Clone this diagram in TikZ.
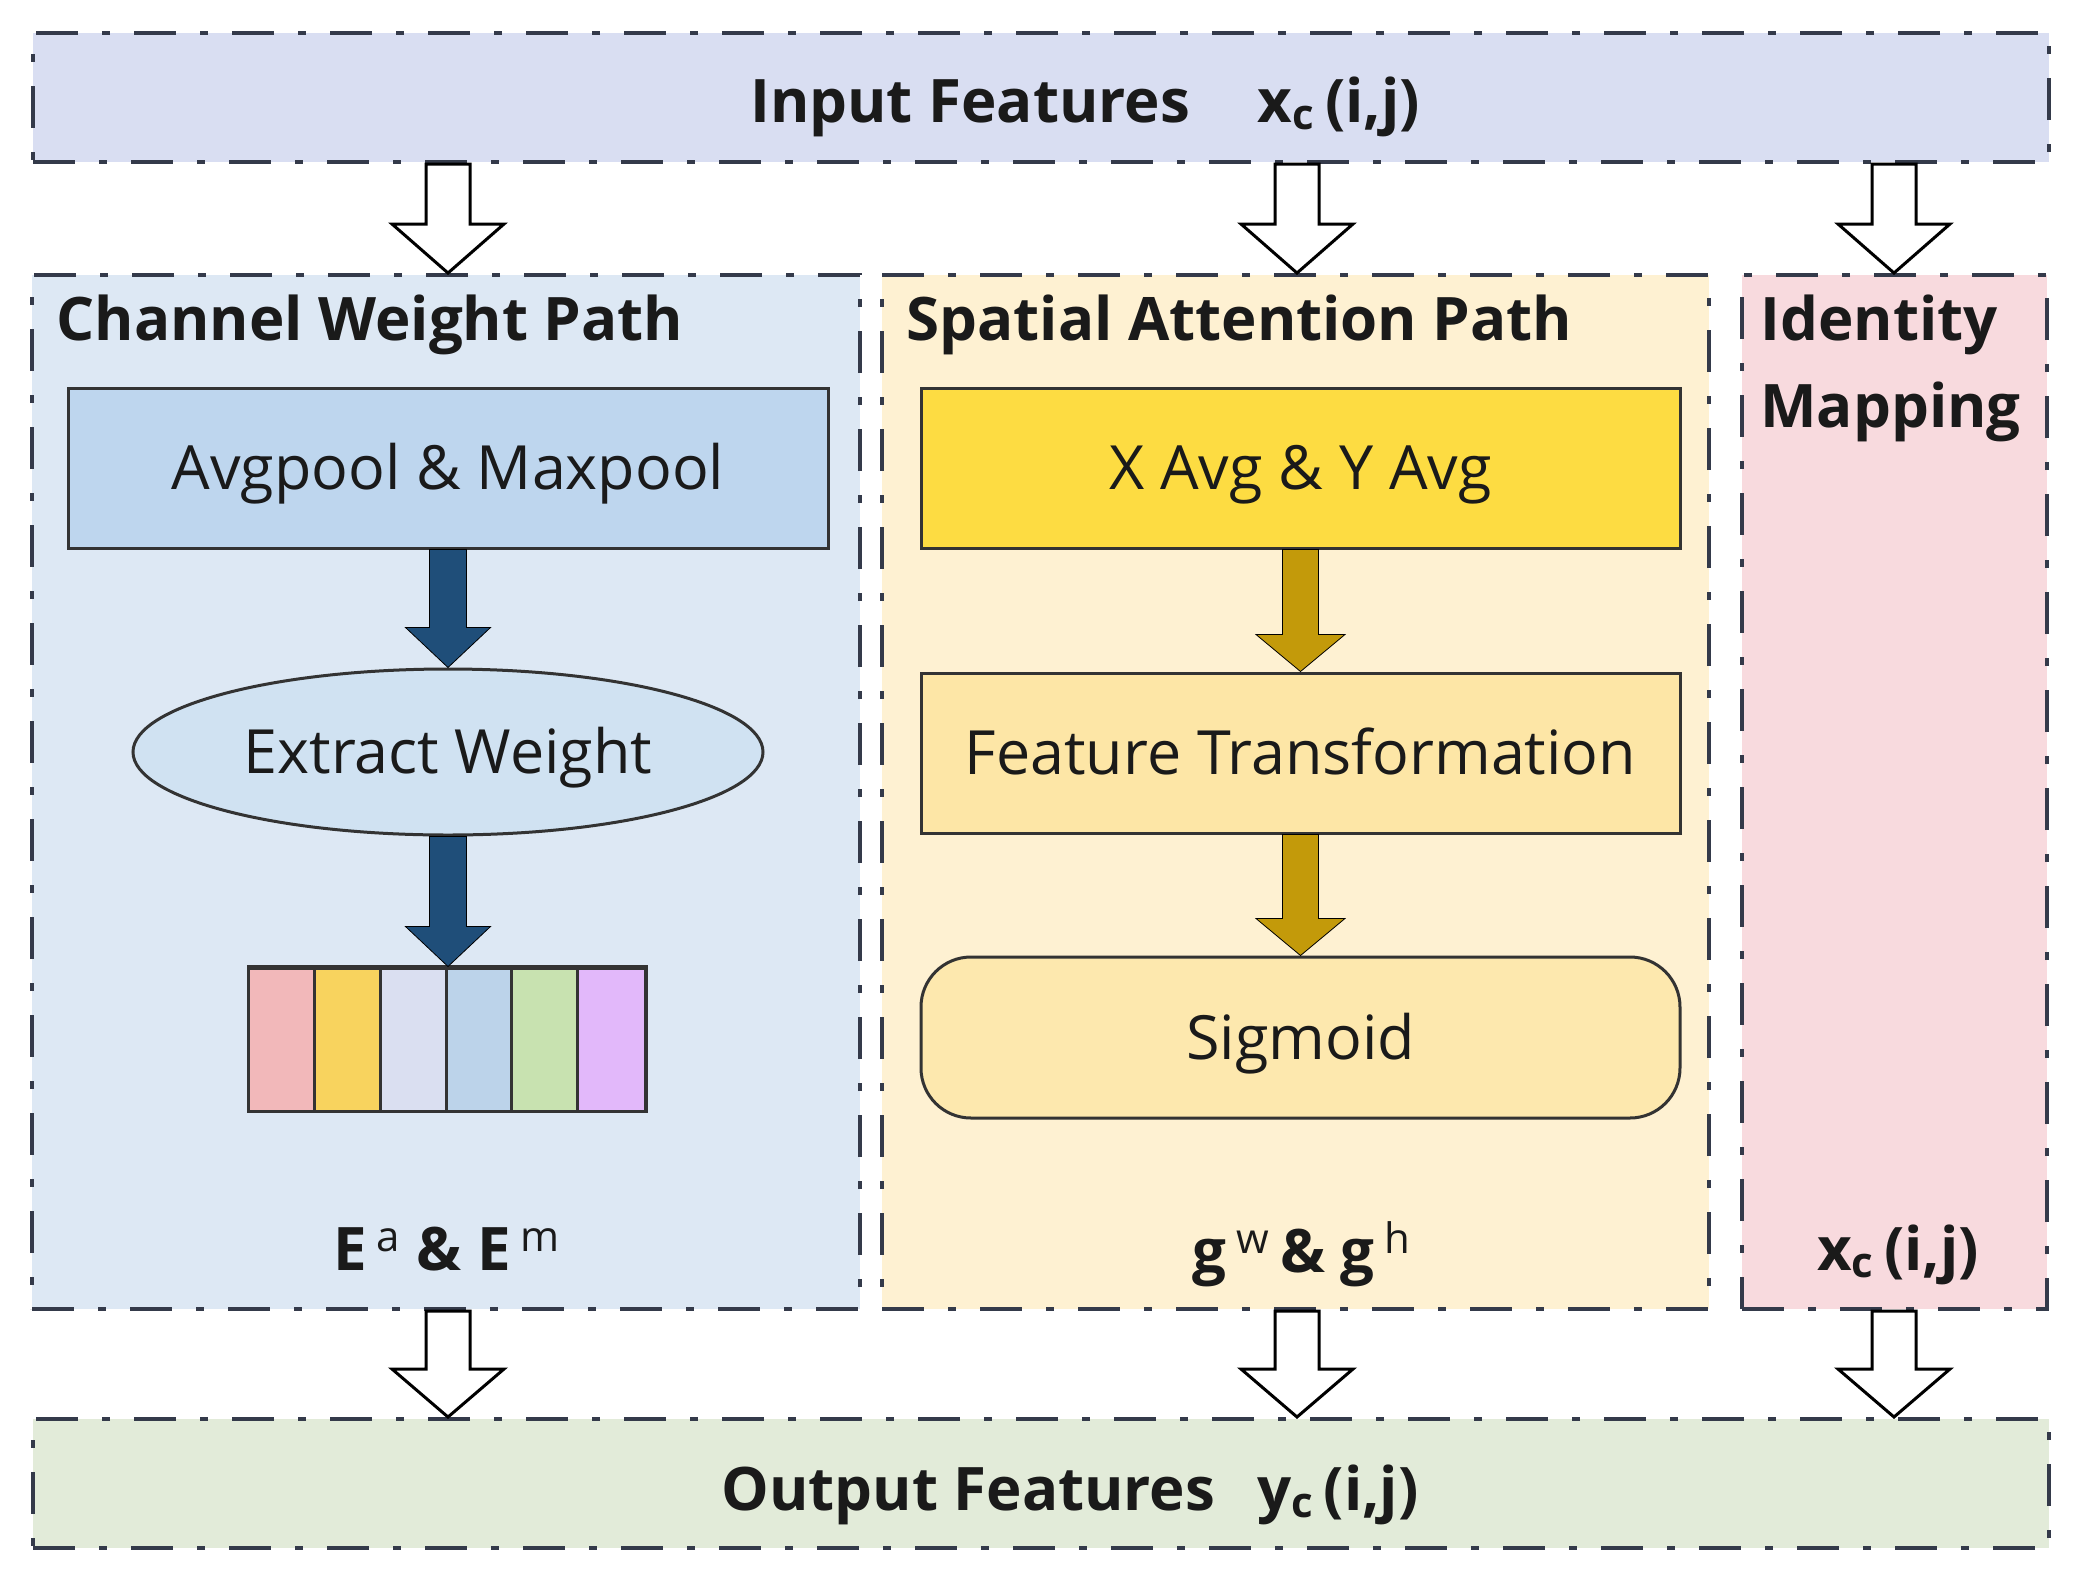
\documentclass[tikz,border=0pt]{standalone}
\usepackage{fontspec}
\setmainfont{Open Sans}
\usetikzlibrary{calc,shapes.geometric}
\definecolor{inFill}{HTML}{D9DEF2}
\definecolor{outFill}{HTML}{E2EBD9}
\definecolor{cwFill}{HTML}{DDE8F4}
\definecolor{saFill}{HTML}{FEF1D2}
\definecolor{imFill}{HTML}{F8DADE}
\definecolor{avgFill}{HTML}{BED6EE}
\definecolor{ellFill}{HTML}{D0E2F2}
\definecolor{xaFill}{HTML}{FDDC42}
\definecolor{ftFill}{HTML}{FDE6A6}
\definecolor{sgFill}{HTML}{FDE8AE}
\definecolor{blueArr}{HTML}{1F4E79}
\definecolor{goldArr}{HTML}{C39A0A}
\definecolor{dashCol}{HTML}{343A4A}
\definecolor{lineCol}{HTML}{333333}
\definecolor{txtCol}{HTML}{1A1A1A}
\definecolor{c1}{HTML}{F2B8BA}
\definecolor{c2}{HTML}{F8D35E}
\definecolor{c3}{HTML}{DADFF1}
\definecolor{c4}{HTML}{BCD3EA}
\definecolor{c5}{HTML}{C8E2B0}
\definecolor{c6}{HTML}{E2B8FA}
% block arrow: style, start, end, half shaft, half head, head length
\newcommand\blockarr[6]{%
  \draw[#1] let \p1=(#2), \p2=(#3) in
    (\x1-#4,\y1) -- (\x1+#4,\y1) -- (\x1+#4,\y2+#6) -- (\x1+#5,\y2+#6)
    -- (\x1,\y2) -- (\x1-#5,\y2+#6) -- (\x1-#4,\y2+#6) -- cycle;}
\begin{document}
\begin{tikzpicture}[x=0.5pt,y=-0.5pt,
  pathbox/.style={draw=dashCol, line width=2pt,
    dash pattern=on 21pt off 12pt on 4pt off 12pt,
    rectangle, inner sep=0pt},
  innerbox/.style={draw=lineCol, line width=1.5pt, inner sep=0pt,
    text=txtCol, font=\fontsize{30.5}{36}\selectfont,
    text height=21.5pt, text depth=0pt},
  title/.style={anchor=base west, inner sep=0pt, text=txtCol,
    font=\fontsize{30}{43.5}\selectfont\bfseries},
  outlabel/.style={anchor=base, inner sep=0pt, text=txtCol,
    font=\fontsize{30}{36}\selectfont\bfseries},
  hollow/.style={draw=black, fill=white, line width=1.5pt, line join=miter},
  bluearrow/.style={fill=blueArr},
  goldarrow/.style={fill=goldArr},
]
\useasboundingbox (0,0) rectangle (2085,1591);
\fill[white] (0,0) rectangle (2085,1591);

% columns
\coordinate (col1) at (448,0);
\coordinate (col2) at (1297,0);
\coordinate (col3) at (1894,0);

% outer boxes
\node[pathbox, fill=inFill, minimum width=1008pt, minimum height=64.5pt] (in) at (1041,97.5) {};
\node[pathbox, fill=outFill, minimum width=1008pt, minimum height=64.5pt] (out) at (1041,1483.5) {};
\node[pathbox, fill=cwFill, minimum width=414pt, minimum height=517pt] (cw) at (446,792) {};
\node[pathbox, fill=saFill, minimum width=413.5pt, minimum height=517pt] (sa) at (1295.5,792) {};
\node[pathbox, fill=imFill, minimum width=152.5pt, minimum height=517pt] (im) at (1894.5,792) {};

% main labels
\node[outlabel] (inlabel) at (1085,122) {Input Features\hspace{34pt}x\textsubscript{c}\,(i,j)};
\node[outlabel] (outlabel) at (1070,1510) {Output Features\hspace{21pt}y\textsubscript{c}\,(i,j)};

% titles
\node[title] (cwt) at (56,340) {Channel Weight Path};
\node[title] (sat) at (906,340) {Spatial Attention Path};
\node[title, align=left] (imt) at (1760,427) {Identity\\Mapping};

% channel path
\node[innerbox, fill=avgFill, minimum width=380pt, minimum height=80pt] (avg) at (448,468) {Avgpool \& Maxpool};
\node[innerbox, ellipse, fill=ellFill, minimum width=315pt, minimum height=83pt] (ell) at (448,752) {Extract Weight};
\node[draw=lineCol, line width=1.5pt, minimum width=197.5pt, minimum height=71pt, inner sep=0pt] (strip) at (447.5,1039) {};
\foreach \i/\c in {0/c1,1/c2,2/c3,3/c4,4/c5,5/c6}{
  \fill[\c] ($(strip.south west)+(\i*65.833,0)$) rectangle ($(strip.south west)+(\i*65.833+65.833,-142)$);
}
\foreach \i in {1,...,5}{
  \draw[lineCol, line width=1.5pt] ($(strip.south west)+(\i*65.833,0)$) -- ($(strip.north west)+(\i*65.833,0)$);
}
\draw[lineCol, line width=1.5pt] (strip.south west) rectangle (strip.north east);
\node[outlabel] (cwout) at (447,1270) {E\,\textsuperscript{\mdseries a} \& E\,\textsuperscript{\mdseries m}};

% spatial path
\node[innerbox, fill=xaFill, minimum width=379.5pt, minimum height=80pt] (xa) at (1300.5,468) {X Avg \& Y Avg};
\node[innerbox, fill=ftFill, minimum width=379.5pt, minimum height=80pt] (ft) at (1300.5,753) {Feature Transformation};
\node[innerbox, fill=sgFill, rounded corners=25pt, minimum width=379.5pt, minimum height=80.5pt] (sg) at (1300.5,1037.5) {Sigmoid};
\node[outlabel] (saout) at (1302,1272) {g\,\textsuperscript{\mdseries w}\,\& g\,\textsuperscript{\mdseries h}};

% identity
\node[outlabel] (imout) at (1898,1270) {x\textsubscript{c}\,(i,j)};

% inner arrows
\blockarr{bluearrow}{avg.south}{ell.north}{9.25pt}{21.25pt}{20pt}
\blockarr{bluearrow}{ell.south}{strip.north}{9.25pt}{21.25pt}{20pt}
\blockarr{goldarrow}{xa.south}{ft.north}{9pt}{22.25pt}{18.5pt}
\blockarr{goldarrow}{ft.south}{sg.north}{9pt}{22.25pt}{18.5pt}

% hollow arrows in
\blockarr{hollow}{in.south -| col1}{cw.north -| col1}{11pt}{28pt}{24.5pt}
\blockarr{hollow}{in.south -| col2}{sa.north -| col2}{11pt}{28pt}{24.5pt}
\blockarr{hollow}{in.south -| col3}{im.north -| col3}{11pt}{28pt}{24.5pt}
% hollow arrows out
\blockarr{hollow}{cw.south -| col1}{out.north -| col1}{11pt}{28pt}{24pt}
\blockarr{hollow}{sa.south -| col2}{out.north -| col2}{11pt}{28pt}{24pt}
\blockarr{hollow}{im.south -| col3}{out.north -| col3}{11pt}{28pt}{24pt}
\end{tikzpicture}
\end{document}
